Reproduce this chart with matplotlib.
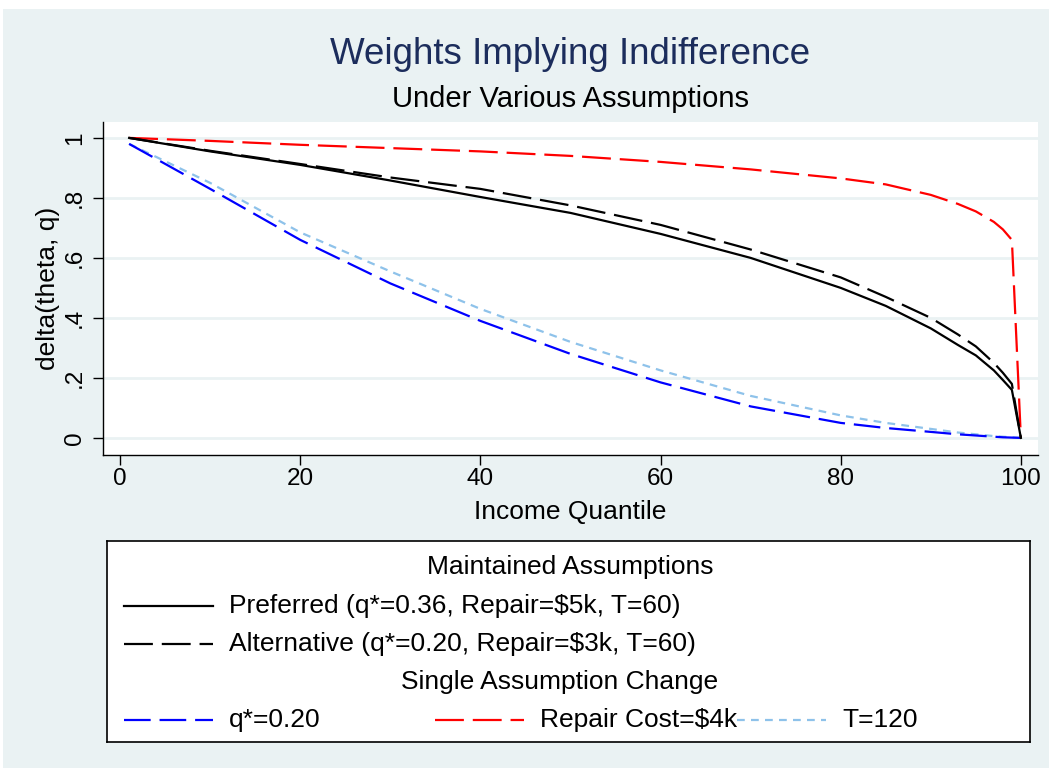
import numpy as np
import matplotlib
matplotlib.use('Agg')
import matplotlib.pyplot as plt
from matplotlib.patches import Rectangle

plt.rcParams['font.family'] = ['Liberation Sans', 'DejaVu Sans']

# waarden
quantile = [1, 10, 20, 30, 40, 50, 60, 70, 80, 85, 90, 93, 95, 97, 98, 99, 100]
preferred = [1.0, 0.955, 0.91, 0.858, 0.803, 0.75, 0.68, 0.60, 0.50, 0.44, 0.365, 0.31, 0.275, 0.225, 0.193, 0.16, 0.0]
alternative = [1.0, 0.957, 0.913, 0.868, 0.83, 0.775, 0.71, 0.628, 0.535, 0.47, 0.40, 0.345, 0.305, 0.25, 0.217, 0.18, 0.0]
q_star_020 = [0.98, 0.83, 0.66, 0.515, 0.39, 0.28, 0.185, 0.105, 0.05, 0.033, 0.02, 0.012, 0.008, 0.004, 0.002, 0.001, 0.0]
repair_4k = [1.0, 0.99, 0.977, 0.966, 0.955, 0.94, 0.92, 0.895, 0.865, 0.845, 0.81, 0.78, 0.755, 0.72, 0.695, 0.66, 0.0]
t_120 = [0.98, 0.85, 0.685, 0.555, 0.43, 0.32, 0.225, 0.14, 0.075, 0.05, 0.03, 0.018, 0.012, 0.006, 0.004, 0.002, 0.0]

x_ticks = [0, 20, 40, 60, 80, 100]
y_ticks = [0, 0.2, 0.4, 0.6, 0.8, 1.0]
y_tick_labels = ['0', '.2', '.4', '.6', '.8', '1']

BG = '#eaf2f3'
W, H = 1052, 772

fig = plt.figure(figsize=(W / 100, H / 100), dpi=100, facecolor='white')
fig.patches.append(Rectangle((3 / W, 4 / H), 1046 / W, 759 / H, transform=fig.transFigure,
                             facecolor=BG, edgecolor='none', zorder=-10))

# grafiek
ax = fig.add_axes([103 / W, 317 / H, 935 / W, 333 / H])
ax.set_facecolor('white')
lw = 1.6
styles = {
    'pref': dict(color='black', linestyle='-'),
    'alt': dict(color='black', linestyle=(0, (13, 4))),
    'q': dict(color='#0000ff', linestyle=(0, (12, 4))),
    'rep': dict(color='#ff0000', linestyle=(0, (13, 4))),
    't': dict(color='#8ec2ea', linestyle=(0, (3.5, 2.8))),
}
ax.plot(quantile, t_120, lw=lw, **styles['t'])
ax.plot(quantile, q_star_020, lw=lw, **styles['q'])
ax.plot(quantile, repair_4k, lw=lw, **styles['rep'])
ax.plot(quantile, alternative, lw=lw, **styles['alt'])
ax.plot(quantile, preferred, lw=lw, **styles['pref'])

ax.set_xlim(-1.9, 101.9)
ax.set_ylim(-0.057, 1.053)
ax.set_xticks(x_ticks)
ax.set_yticks(y_ticks)
ax.set_yticklabels(y_tick_labels, rotation=90, va='center')
ax.tick_params(axis='both', length=7.2, width=1, labelsize=17.5)
ax.tick_params(axis='y', pad=5)
ax.tick_params(axis='x', pad=2)
ax.grid(axis='y', color=BG, lw=2)
ax.set_axisbelow(True)
for s in ['top', 'right']:
    ax.spines[s].set_visible(False)
for s in ['left', 'bottom']:
    ax.spines[s].set_linewidth(1)

ax.set_xlabel('Income Quantile', fontsize=19, va='center')
ax.xaxis.set_label_coords(0.5, -57 / 333)
ax.set_ylabel('delta(theta, q)', fontsize=19, va='center')
ax.yaxis.set_label_coords(-55 / 935, 0.5)

fig.text(570 / W, 1 - 54 / H, 'Weights Implying Indifference', fontsize=26.5,
         color='#1c2d5c', ha='center', va='center')
fig.text(570 / W, 1 - 99 / H, 'Under Various Assumptions', fontsize=21,
         ha='center', va='center')

# legenda
lax = fig.add_axes([107 / W, 30 / H, 923 / W, 201 / H])
lax.set_xlim(0, 923)
lax.set_ylim(201, 0)
lax.set_xticks([])
lax.set_yticks([])
for s in lax.spines.values():
    s.set_linewidth(1.2)
    s.set_color('black')

fs = 19
lax.text(463, 26, 'Maintained Assumptions', fontsize=fs, ha='center', va='center')
lax.text(453, 141, 'Single Assumption Change', fontsize=fs, ha='center', va='center')
entries = [
    (17, 65, 'pref', 'Preferred (q*=0.36, Repair=$5k, T=60)'),
    (17, 103, 'alt', 'Alternative (q*=0.20, Repair=$3k, T=60)'),
    (17, 179, 'q', 'q*=0.20'),
    (328, 179, 'rep', 'Repair Cost=$4k'),
    (630, 179, 't', 'T=120'),
]
for x0, y0, key, label in entries:
    lax.plot([x0, x0 + 89], [y0, y0], lw=lw, **styles[key])
    lax.text(x0 + 105, y0, label, fontsize=fs, ha='left', va='center')

fig.savefig('out.png', dpi=100, facecolor=fig.get_facecolor())
